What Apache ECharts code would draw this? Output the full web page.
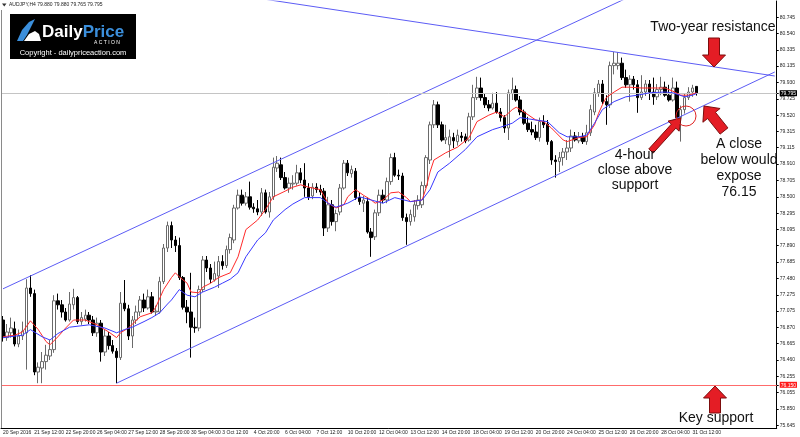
<!DOCTYPE html>
<html>
<head>
<meta charset="utf-8">
<title>AUDJPY H4</title>
<script src="https://cdn.jsdelivr.net/npm/echarts@6/dist/echarts.min.js"></script>
<style>
    html, body { margin: 0; padding: 0; background: #fff; }
    #chart { width: 800px; height: 437px; }
</style>
</head>
<body>
<div id="chart"></div>
<script>
    // time labels, one every 8 bars (4-hour bars)
    var timeLabels = ['20 Sep 2016', '21 Sep 12:00', '22 Sep 20:00', '26 Sep 04:00', '27 Sep 12:00', '28 Sep 20:00',
        '30 Sep 04:00', '3 Oct 12:00', '4 Oct 20:00', '6 Oct 04:00', '7 Oct 12:00', '10 Oct 20:00', '12 Oct 04:00',
        '13 Oct 12:00', '14 Oct 20:00', '18 Oct 04:00', '19 Oct 12:00', '20 Oct 20:00', '24 Oct 04:00',
        '25 Oct 12:00', '26 Oct 20:00', '28 Oct 04:00', '31 Oct 12:00'];

    var priceTicks = [80.745, 80.540, 80.335, 80.135, 79.930, 79.725, 79.520, 79.315, 79.115, 78.910, 78.705,
        78.500, 78.295, 78.095, 77.890, 77.685, 77.480, 77.275, 77.075, 76.870, 76.665, 76.460, 76.255,
        76.055, 75.850, 75.645];

    var lastPrice = 79.795;
    var supportLevel = 76.15;

    // open, close, low, high
    var candles = [
        [76.96, 76.74, 76.69, 77.01], [76.74, 76.81, 76.70, 76.91], [76.80, 76.86, 76.74, 76.99], [76.85, 76.66, 76.63, 76.94],
        [76.66, 76.76, 76.62, 76.84], [76.76, 76.82, 76.71, 76.94], [76.80, 77.36, 76.34, 77.47], [77.36, 77.29, 77.25, 77.52],
        [77.29, 76.31, 76.27, 77.34], [76.31, 76.37, 76.17, 76.43], [76.36, 76.44, 76.17, 76.56], [76.44, 76.52, 76.34, 76.65],
        [76.51, 76.59, 76.46, 76.71], [76.59, 77.20, 76.55, 77.27], [77.20, 77.15, 77.09, 77.29], [77.15, 77.06, 76.99, 77.21],
        [77.06, 76.96, 76.94, 77.11], [76.96, 77.16, 76.94, 77.31], [77.15, 77.24, 77.09, 77.35], [77.24, 76.94, 76.91, 77.26],
        [76.94, 76.99, 76.90, 77.06], [76.97, 77.02, 76.94, 77.09], [77.02, 76.96, 76.91, 77.06], [76.96, 76.80, 76.76, 77.01],
        [76.80, 76.92, 76.75, 76.99], [76.92, 76.56, 76.44, 76.96], [76.56, 76.76, 76.51, 76.84], [76.76, 76.64, 76.59, 76.81],
        [76.64, 76.57, 76.54, 76.71], [76.57, 76.49, 76.17, 76.61], [76.49, 77.17, 76.46, 77.31], [77.17, 77.10, 77.07, 77.46],
        [77.10, 76.76, 76.71, 77.15], [76.76, 76.96, 76.61, 77.01], [76.96, 77.06, 76.91, 77.14], [77.06, 77.21, 77.01, 77.26],
        [77.21, 77.11, 77.06, 77.29], [77.11, 77.25, 77.09, 77.34], [77.25, 77.06, 77.04, 77.31], [77.06, 77.07, 77.01, 77.14],
        [77.06, 77.44, 77.04, 77.50], [77.44, 77.86, 77.41, 77.91], [77.86, 78.14, 77.81, 78.19], [78.14, 77.96, 77.86, 78.19],
        [77.96, 77.89, 77.81, 78.01], [77.89, 77.49, 77.46, 77.99], [77.49, 77.12, 77.09, 77.51], [77.12, 77.06, 76.92, 77.21],
        [77.06, 76.87, 76.49, 77.55], [76.87, 76.86, 76.80, 76.99], [76.86, 77.34, 76.82, 77.39], [77.34, 77.71, 77.31, 77.76],
        [77.71, 77.61, 77.56, 77.76], [77.61, 77.47, 77.42, 77.66], [77.46, 77.54, 77.44, 77.69], [77.51, 77.69, 77.36, 77.76],
        [77.69, 77.64, 77.59, 77.77], [77.64, 77.84, 77.61, 77.89], [77.84, 77.99, 77.79, 78.04], [77.96, 78.36, 77.92, 78.40],
        [78.36, 78.52, 78.34, 78.59], [78.52, 78.42, 78.39, 78.59], [78.42, 78.50, 78.39, 78.56], [78.50, 78.37, 78.34, 78.69],
        [78.37, 78.35, 78.30, 78.42], [78.35, 78.31, 78.27, 78.46], [78.31, 78.55, 78.26, 78.61], [78.55, 78.31, 78.29, 78.59],
        [78.31, 78.50, 78.24, 78.56], [78.50, 78.87, 78.46, 78.99], [78.86, 78.92, 78.81, 79.01], [78.90, 78.74, 78.71, 78.99],
        [78.74, 78.61, 78.59, 78.81], [78.61, 78.67, 78.55, 78.74], [78.66, 78.67, 78.59, 78.77], [78.67, 78.80, 78.64, 78.90],
        [78.80, 78.71, 78.67, 78.86], [78.71, 78.61, 78.50, 78.92], [78.61, 78.50, 78.46, 78.67], [78.51, 78.62, 78.47, 78.67],
        [78.62, 78.59, 78.55, 78.67], [78.59, 78.56, 78.52, 78.65], [78.57, 78.11, 78.01, 78.61], [78.11, 78.40, 78.06, 78.50],
        [78.40, 78.19, 78.14, 78.46], [78.19, 78.29, 78.07, 78.34], [78.31, 78.61, 78.27, 78.66], [78.61, 78.92, 78.59, 78.96],
        [78.92, 78.80, 78.76, 78.96], [78.79, 78.84, 78.74, 78.89], [78.82, 78.49, 78.46, 78.86], [78.49, 78.44, 78.40, 78.55],
        [78.42, 78.46, 78.31, 78.51], [78.44, 78.06, 78.04, 78.49], [78.06, 77.99, 77.75, 78.11], [78.00, 78.30, 77.96, 78.34],
        [78.30, 78.52, 78.26, 78.59], [78.52, 78.46, 78.42, 78.59], [78.46, 78.69, 78.42, 78.74], [78.69, 78.99, 78.65, 79.04],
        [78.99, 78.77, 78.75, 79.05], [78.77, 78.76, 78.71, 78.84], [78.76, 78.24, 78.20, 78.80], [78.24, 78.19, 77.90, 78.29],
        [78.19, 78.28, 78.14, 78.34], [78.25, 78.40, 78.19, 78.46], [78.39, 78.46, 78.34, 78.52], [78.40, 78.64, 78.36, 78.69],
        [78.64, 78.99, 78.61, 79.02], [78.96, 79.40, 78.91, 79.44], [79.40, 79.65, 79.36, 79.71], [79.65, 79.40, 79.36, 79.69],
        [79.40, 79.21, 79.19, 79.44], [79.21, 79.24, 79.16, 79.40], [79.15, 79.25, 78.99, 79.34], [79.24, 79.20, 79.11, 79.30],
        [79.19, 79.27, 79.14, 79.34], [79.26, 79.24, 79.19, 79.31], [79.25, 79.20, 79.17, 79.29], [79.21, 79.50, 79.19, 79.55],
        [79.50, 79.74, 79.46, 79.90], [79.74, 79.86, 79.71, 80.00], [79.86, 79.74, 79.70, 79.99], [79.74, 79.65, 79.61, 79.79],
        [79.65, 79.61, 79.57, 79.71], [79.61, 79.67, 79.59, 79.80], [79.67, 79.56, 79.54, 79.81], [79.56, 79.49, 79.44, 79.61],
        [79.49, 79.36, 79.30, 79.52], [79.36, 79.80, 79.21, 79.84], [79.79, 79.84, 79.71, 79.99], [79.84, 79.71, 79.69, 79.89],
        [79.71, 79.56, 79.52, 79.76], [79.56, 79.42, 79.40, 79.59], [79.42, 79.34, 79.31, 79.50], [79.34, 79.31, 79.27, 79.44],
        [79.31, 79.24, 79.21, 79.40], [79.24, 79.44, 79.19, 79.49], [79.44, 79.40, 79.36, 79.52], [79.41, 79.19, 79.15, 79.46],
        [79.19, 78.96, 78.90, 79.21], [78.96, 78.94, 78.74, 79.02], [78.94, 78.99, 78.81, 79.06], [78.99, 79.06, 78.89, 79.11],
        [79.06, 79.11, 78.96, 79.21], [79.11, 79.26, 79.06, 79.34], [79.26, 79.21, 79.19, 79.31], [79.20, 79.25, 79.17, 79.31],
        [79.25, 79.19, 79.16, 79.30], [79.19, 79.30, 79.15, 79.40], [79.30, 79.59, 79.26, 79.65], [79.56, 79.80, 79.52, 79.86],
        [79.80, 79.91, 79.75, 79.96], [79.91, 79.69, 79.66, 79.96], [79.69, 79.65, 79.40, 79.77], [79.65, 80.14, 79.61, 80.19],
        [80.14, 80.17, 80.03, 80.31], [80.14, 80.17, 80.09, 80.31], [80.17, 79.99, 79.96, 80.24], [79.99, 79.90, 79.86, 80.09],
        [79.90, 79.97, 79.69, 80.02], [79.97, 79.90, 79.84, 80.01], [79.90, 79.74, 79.55, 79.96], [79.74, 79.81, 79.71, 80.02],
        [79.81, 79.91, 79.76, 79.96], [79.91, 79.81, 79.71, 79.96], [79.81, 79.75, 79.65, 79.99], [79.75, 79.84, 79.71, 79.91],
        [79.84, 79.87, 79.77, 80.00], [79.87, 79.77, 79.75, 79.94], [79.77, 79.71, 79.69, 79.90], [79.71, 79.86, 79.69, 79.99],
        [79.86, 79.49, 79.46, 79.94], [79.49, 79.59, 79.19, 79.64], [79.59, 79.74, 79.54, 79.79], [79.74, 79.81, 79.71, 79.87],
        [79.81, 79.86, 79.75, 79.90], [79.88, 79.795, 79.765, 79.88]
    ];

    // moving averages: [bar index, price]
    var maFast = [[0, 76.75], [3, 76.77], [5, 76.81], [7, 76.95], [9, 76.84], [11, 76.69], [12, 76.65], [14, 76.75],
        [16, 76.86], [18, 76.96], [21, 76.96], [24, 76.90], [27, 76.81], [29, 76.74], [30, 76.80], [32, 76.86],
        [35, 77.00], [38, 77.05], [39, 77.12], [41, 77.34], [43, 77.49], [44, 77.55], [45, 77.50], [47, 77.42],
        [48, 77.31], [50, 77.30], [51, 77.37], [53, 77.42], [55, 77.49], [58, 77.55], [60, 77.75], [62, 78.09],
        [65, 78.21], [67, 78.34], [69, 78.50], [72, 78.57], [74, 78.62], [76, 78.65], [78, 78.62], [81, 78.59],
        [83, 78.42], [85, 78.36], [87, 78.40], [88, 78.50], [90, 78.59], [92, 78.52], [94, 78.46], [95, 78.42],
        [97, 78.46], [99, 78.55], [101, 78.56], [103, 78.49], [104, 78.44], [107, 78.46], [108, 78.61], [109, 78.81],
        [110, 78.96], [113, 79.05], [116, 79.12], [119, 79.24], [121, 79.44], [124, 79.52], [126, 79.56], [128, 79.50],
        [130, 79.59], [131, 79.62], [133, 79.56], [136, 79.46], [138, 79.44], [140, 79.36], [143, 79.21], [144, 79.19],
        [147, 79.24], [149, 79.25], [151, 79.40], [152, 79.54], [153, 79.65], [154, 79.74], [156, 79.81], [158, 79.87],
        [160, 79.87], [163, 79.86], [167, 79.86], [169, 79.86], [171, 79.82], [173, 79.77], [175, 79.77], [177, 79.80]];

    var maSlow = [[0, 76.74], [5, 76.77], [7, 76.84], [10, 76.75], [12, 76.71], [14, 76.79], [17, 76.87], [22, 76.90],
        [26, 76.86], [29, 76.80], [31, 76.84], [33, 76.87], [36, 76.94], [38, 76.99], [40, 77.05], [42, 77.16],
        [43, 77.21], [45, 77.34], [47, 77.27], [49, 77.25], [51, 77.31], [54, 77.37], [56, 77.42], [58, 77.47],
        [60, 77.55], [62, 77.75], [65, 77.96], [67, 78.05], [69, 78.21], [72, 78.34], [74, 78.41], [77, 78.49],
        [81, 78.49], [83, 78.42], [85, 78.37], [88, 78.42], [91, 78.50], [94, 78.46], [97, 78.42], [100, 78.49],
        [104, 78.44], [107, 78.46], [109, 78.59], [111, 78.81], [114, 78.92], [118, 79.09], [121, 79.25], [125, 79.34],
        [127, 79.37], [130, 79.42], [132, 79.49], [136, 79.46], [139, 79.44], [142, 79.30], [144, 79.25], [147, 79.25],
        [149, 79.27], [151, 79.42], [153, 79.59], [156, 79.69], [159, 79.75], [162, 79.77], [165, 79.80], [169, 79.81],
        [171, 79.80], [174, 79.75], [176, 79.77], [177, 79.79]];

    // hand-drawn trend lines: [bar index, price]
    var channelTop = [[0, 77.35], [170, 81.23]];
    var channelBottom = [[29, 76.17], [197, 80.06]];
    var resistanceLine = [[60, 81.02], [197, 80.01]];

    var noteRight = ['A close', 'below would', 'expose', '76.15'];
    var noteLeft = ['4-hour', 'close above', 'support'];

    var slotCount = 198;
    var categories = [];
    for (var i = 0; i < slotCount; i++) {
        categories.push(i % 8 === 0 && timeLabels[i / 8] ? timeLabels[i / 8] : '');
    }
    var showLabel = function (idx, val) { return val !== ''; };

    var yLabelValues = priceTicks.concat([lastPrice, supportLevel]);

    var font = 'Liberation Sans, Arial, sans-serif';
    var arrowRed = '#e41d25';
    var arrowEdge = '#7c0d0d';

    function arrowShape(tail, tip, shaft, head, headLen) {
        var dx = tip[0] - tail[0], dy = tip[1] - tail[1];
        var len = Math.sqrt(dx * dx + dy * dy);
        var ux = dx / len, uy = dy / len, nx = -uy, ny = ux;
        var bx = tip[0] - ux * headLen, by = tip[1] - uy * headLen;
        return [
            [tail[0] + nx * shaft / 2, tail[1] + ny * shaft / 2],
            [bx + nx * shaft / 2, by + ny * shaft / 2],
            [bx + nx * head / 2, by + ny * head / 2],
            tip,
            [bx - nx * head / 2, by - ny * head / 2],
            [bx - nx * shaft / 2, by - ny * shaft / 2],
            [tail[0] - nx * shaft / 2, tail[1] - ny * shaft / 2]
        ];
    }

    function arrow(tail, tip, shaft, head, headLen) {
        return {
            type: 'polygon', z: 100,
            shape: { points: arrowShape(tail, tip, shaft, head, headLen) },
            style: { fill: arrowRed, stroke: arrowEdge, lineWidth: 1 }
        };
    }

    function label(text, x, y, size) {
        return {
            type: 'text', z: 100, x: x, y: y,
            style: { text: text, fontSize: size, fontFamily: font, fill: '#111', align: 'center', verticalAlign: 'middle' }
        };
    }

    var graphics = [
        { type: 'line', z: 50, shape: { x1: 1.5, y1: 10, x2: 1.5, y2: 428 }, style: { stroke: '#8a8a8a', lineWidth: 1 } },
        { type: 'polygon', z: 100, shape: { points: [[2, 3.5], [6.5, 3.5], [4.25, 6.5]] }, style: { fill: '#333' } },
        { type: 'text', z: 100, x: 9, y: 5,
          style: { text: 'AUDJPY,H4 79.880 79.880 79.765 79.795', fontSize: 5, fontFamily: font, fill: '#222', verticalAlign: 'middle' } },
        // logo
        { type: 'rect', z: 100, shape: { x: 10, y: 14, width: 126, height: 45 }, style: { fill: '#000' } },
        { type: 'polygon', z: 101, shape: { points: [[17, 41], [22, 30], [29, 22], [35, 19], [31, 27], [27, 35], [23, 41]] },
          style: { fill: '#3b8fdc' } },
        { type: 'polygon', z: 101, shape: { points: [[24, 41], [29, 34], [35, 31], [39, 34], [41, 41]] },
          style: { fill: '#ffffff' } },
        { type: 'text', z: 101, x: 42, y: 32,
          style: { text: '{a|Daily}{b|Price}', fontFamily: font, verticalAlign: 'middle',
                   rich: { a: { fontSize: 17, fontWeight: 'bold', fill: '#ffffff', fontFamily: font },
                           b: { fontSize: 17, fontWeight: 'bold', fill: '#3b8fdc', fontFamily: font } } } },
        { type: 'text', z: 101, x: 107, y: 42.5,
          style: { text: 'A C T I O N', fontSize: 5, fontFamily: font, fill: '#fff', align: 'center', verticalAlign: 'middle' } },
        { type: 'text', z: 101, x: 73, y: 52.5,
          style: { text: 'Copyright - dailypriceaction.com', fontSize: 7.5, fontFamily: font, fill: '#fff', align: 'center', verticalAlign: 'middle' } },
        // annotations
        label('Two-year resistance', 713, 27, 14),
        label('Key support', 716, 418, 14),
        arrow([714, 38], [714, 67], 11, 23, 12),
        arrow([724, 131], [704, 106], 10, 22, 12),
        arrow([651, 151], [681, 118], 6, 15, 11),
        arrow([715, 413], [715, 386], 11, 23, 12),
        { type: 'circle', z: 100, shape: { cx: 686, cy: 116, r: 10 }, style: { fill: 'none', stroke: '#e02424', lineWidth: 1 } }
    ];
    noteRight.forEach(function (t, k) { graphics.push(label(t, 739, 144 + 16 * k, 14)); });
    noteLeft.forEach(function (t, k) { graphics.push(label(t, 635, 155 + 15 * k, 14)); });

    function trend(data) {
        return {
            type: 'line', data: data, symbol: 'none', clip: true, silent: true, z: 4,
            lineStyle: { color: '#5c5cf5', width: 1 }
        };
    }

    var chart = echarts.init(document.getElementById('chart'));
    chart.setOption({
        animation: false,
        backgroundColor: '#ffffff',
        grid: { left: -0.5, right: 20, top: 1, bottom: 9 },
        xAxis: {
            type: 'category',
            data: categories,
            boundaryGap: true,
            axisLine: { lineStyle: { color: '#000', width: 1 } },
            axisTick: { interval: showLabel, alignWithLabel: true, length: 2, lineStyle: { color: '#000' } },
            axisLabel: { interval: showLabel, align: 'left', fontSize: 5, fontFamily: font, color: '#222', margin: 2 },
            splitLine: { show: false }
        },
        yAxis: {
            type: 'value',
            position: 'right',
            min: 75.61,
            max: 80.9475,
            axisLine: { show: true, lineStyle: { color: '#000', width: 1 } },
            axisTick: { show: true, length: 2, customValues: yLabelValues, lineStyle: { color: '#000' } },
            axisLabel: {
                customValues: yLabelValues,
                fontSize: 5, fontFamily: font, color: '#222', margin: 3,
                formatter: function (v) {
                    var s = v.toFixed(3);
                    if (s === lastPrice.toFixed(3)) return '{cur|' + s + '}';
                    if (s === supportLevel.toFixed(3)) return '{sup|' + s + '}';
                    return s;
                },
                rich: {
                    cur: { backgroundColor: '#000', color: '#fff', fontSize: 5, fontFamily: font, padding: [1, 1, 0, 1] },
                    sup: { backgroundColor: '#ff1a1a', color: '#fff', fontSize: 5, fontFamily: font, padding: [1, 1, 0, 1] }
                }
            },
            splitLine: { show: false }
        },
        graphic: graphics,
        series: [
            {
                type: 'candlestick',
                data: candles,
                barWidth: 3,
                z: 3,
                itemStyle: {
                    color: '#ffffff', color0: '#000000',
                    borderColor: '#6a6a6a', borderColor0: '#000000', borderWidth: 1
                },
                markLine: {
                    silent: true,
                    symbol: ['none', 'none'],
                    label: { show: false },
                    data: [
                        { yAxis: supportLevel, lineStyle: { color: '#ff6b6b', width: 1.2, type: 'solid' } },
                        { yAxis: lastPrice, lineStyle: { color: '#c4c4c4', width: 1, type: 'solid' } }
                    ]
                }
            },
            {
                type: 'line', data: maFast, symbol: 'none', silent: true, z: 5,
                lineStyle: { color: '#ff2a2a', width: 1 }
            },
            {
                type: 'line', data: maSlow, symbol: 'none', silent: true, z: 5,
                lineStyle: { color: '#3a3aff', width: 1 }
            },
            trend(channelTop),
            trend(channelBottom),
            trend(resistanceLine)
        ]
    });
</script>
</body>
</html>
